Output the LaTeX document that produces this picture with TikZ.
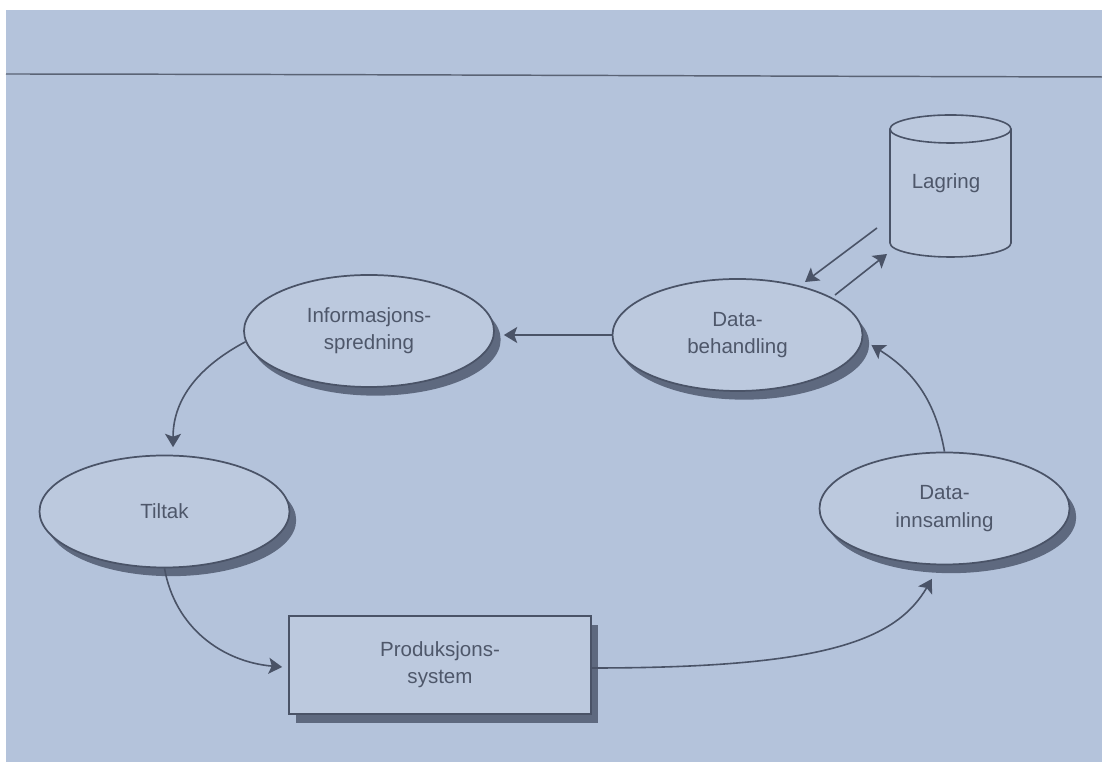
\documentclass[tikz,border=0pt]{standalone}
\usepackage{fontspec}
\setmainfont{Liberation Sans}
\usetikzlibrary{shapes.geometric,shadows,arrows.meta}

\definecolor{paper}{HTML}{B4C3DB}
\definecolor{cell}{HTML}{BCC9DE}
\definecolor{shade}{HTML}{5E697F}
\definecolor{ink}{HTML}{4A5367}
\definecolor{label}{HTML}{4E576A}
\definecolor{rulec}{HTML}{5A6375}

\tikzset{
  txt/.style={text=label, font=\fontsize{15.4}{20.5}\selectfont, align=center},
  castshadow/.style={drop shadow={shadow xshift=5pt, shadow yshift=-6.5pt, fill=shade, opacity=1}},
  phase/.style={txt, ellipse, draw=ink, line width=1.3pt, fill=cell,
    minimum width=187.5pt, minimum height=84pt, inner sep=0pt, castshadow},
  plant/.style={txt, rectangle, draw=ink, line width=1.3pt, fill=cell,
    minimum width=226.5pt, minimum height=73.5pt, inner sep=0pt, castshadow},
  flow/.style={draw=ink, line width=1.2pt, -{Stealth[length=10pt,width=12pt,inset=2.2pt]}},
  can/.style={draw=ink, line width=1.2pt, fill=cell},
}

\begin{document}
\begin{tikzpicture}[x=0.75pt,y=0.75pt]
  % page and frame
  \fill[white] (0,0) rectangle (1102,762);
  \fill[paper] (6,0) rectangle (1102,752);
  \useasboundingbox (0,0) rectangle (1102,762);
  \draw[rulec, line width=1.1pt] (6,688) .. controls (400,687.5) and (700,686) .. (1102,685);

  % storage cylinder
  \draw[can] (890,633) -- (890,519)
    arc[start angle=180, end angle=360, x radius=60.5, y radius=14] -- (1011,633);
  \draw[can] (950.5,633) ellipse[x radius=60.5, y radius=14];
  \node[txt] (lagring) at (946,579) {Lagring};

  % process stages
  \node[phase] (info)    at (369,431)   {Informasjons-\\spredning};
  \node[phase] (databeh) at (737.5,427) {Data-\\behandling};
  \node[phase] (tiltak)  at (164.5,250.5) {Tiltak};
  \node[phase] (datainn) at (944.5,253.5) {Data-\\innsamling};
  \node[plant] (prod)    at (440,97)    {Produksjons-\\system};

  % exchange with storage
  \coordinate (toStoreA) at (877,534);
  \coordinate (toStoreB) at (805,480);
  \coordinate (fromStoreA) at (835,467);
  \coordinate (fromStoreB) at (887,508);
  \draw[flow] (toStoreA) -- (toStoreB);
  \draw[flow] (fromStoreA) -- (fromStoreB);

  % cycle
  \draw[flow, shorten >=6.75pt] (databeh.west) -- (databeh.west -| info.east);
  \draw[flow] (info.185) to[out=208, in=90] ([xshift=6.4pt,yshift=5.6pt]tiltak.north);
  \draw[flow] (tiltak.south) to[out=-80, in=175] ([xshift=-4.5pt,yshift=-1.5pt]prod.west);
  \draw[flow] ([yshift=-2.25pt]prod.east) .. controls (820,94) and (895,120) ..
    ([xshift=-2pt,yshift=-10.3pt]datainn.260);
  \draw[flow] (datainn.north) to[out=100, in=-32] ([xshift=6pt,yshift=-7.5pt]databeh.east);
\end{tikzpicture}
\end{document}
